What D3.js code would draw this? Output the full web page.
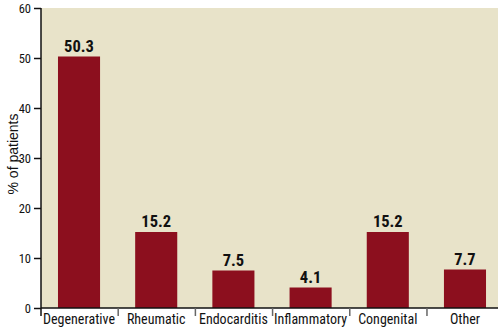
<!DOCTYPE html>
<html>
<head>
<meta charset="utf-8">
<script src="https://cdn.jsdelivr.net/npm/d3@7"></script>
<style>
  body { margin: 0; background: #fff; }
  svg text { font-family: "Roboto Condensed", Roboto, sans-serif; font-stretch: condensed; }
</style>
</head>
<body>
<div class="chart"></div>
<script>
// --- Data ---
const categories = ["Degenerative", "Rheumatic", "Endocarditis", "Inflammatory", "Congenital", "Other"];
const percentages = [50.3, 15.2, 7.5, 4.1, 15.2, 7.7];
const yTicks = [0, 10, 20, 30, 40, 50, 60];

const W = 502, H = 331;
const margin = { top: 8, right: 4, bottom: 23, left: 41 };

const svg = d3.select(".chart").append("svg")
    .attr("width", W)
    .attr("height", H);

const x = d3.scaleBand()
    .domain(categories)
    .range([margin.left, margin.left + 6 * 77])
    .paddingInner(0.455)
    .paddingOuter(0.22);

const y = d3.scaleLinear()
    .domain([0, 60])
    .range([H - margin.bottom, margin.top]);

// plot background
svg.append("rect")
    .attr("x", margin.left)
    .attr("y", y(60))
    .attr("width", W - margin.right - margin.left)
    .attr("height", y(0) - y(60))
    .attr("fill", "#e8e3c9");

// bars
svg.selectAll("rect.bar")
    .data(percentages)
    .enter()
    .append("rect")
    .attr("class", "bar")
    .attr("x", (d, i) => x(categories[i]))
    .attr("y", d => y(d))
    .attr("width", x.bandwidth())
    .attr("height", d => y(0) - y(d))
    .attr("fill", "#8c0f1e");

// value labels
svg.selectAll("text.val")
    .data(percentages)
    .enter()
    .append("text")
    .attr("class", "val")
    .attr("x", (d, i) => x(categories[i]) + x.bandwidth() / 2)
    .attr("y", d => y(d) - 5)
    .attr("text-anchor", "middle")
    .style("font-size", "16.5px")
    .style("font-weight", "bold")
    .style("fill", "#111")
    .text(d => d.toFixed(1));

// y axis
const yAxis = svg.append("g")
    .attr("transform", `translate(${margin.left},0)`)
    .call(d3.axisLeft(y).tickValues(yTicks).tickSize(7).tickPadding(3).tickSizeOuter(0));
yAxis.select(".domain").attr("d", `M0,${y(60)}V${y(0) + 8}`);
yAxis.selectAll("line, path").attr("stroke", "#111").attr("stroke-width", 1.5);
yAxis.selectAll("text")
    .style("font-size", "12.5px")
    .style("fill", "#111")
    .style("font-family", "'Roboto Condensed', Roboto, sans-serif");

// x axis: ticks between categories
const step = x.step();
const boundaries = d3.range(1, categories.length).map(i => margin.left + i * step);
const xAxisG = svg.append("g").attr("transform", `translate(0,${y(0)})`);
xAxisG.append("line")
    .attr("x1", margin.left).attr("x2", W - margin.right)
    .attr("stroke", "#111").attr("stroke-width", 1.5);
xAxisG.selectAll("line.tk")
    .data(boundaries)
    .enter()
    .append("line")
    .attr("class", "tk")
    .attr("x1", d => d).attr("x2", d => d)
    .attr("y1", 0).attr("y2", 8)
    .attr("stroke", "#666").attr("stroke-width", 1.5);
xAxisG.selectAll("text")
    .data(categories)
    .enter()
    .append("text")
    .attr("x", d => x(d) + x.bandwidth() / 2)
    .attr("y", 16)
    .attr("text-anchor", "middle")
    .style("font-size", "14px")
    .style("fill", "#111")
    .text(d => d);

// y axis title
svg.append("text")
    .attr("transform", `translate(17.5,154) rotate(-90)`)
    .attr("text-anchor", "middle")
    .style("font-family", "'Liberation Sans', Arial, sans-serif")
    .style("font-stretch", "normal")
    .style("font-size", "14px")
    .style("fill", "#111")
    .text("% of patients");
</script>
</body>
</html>
